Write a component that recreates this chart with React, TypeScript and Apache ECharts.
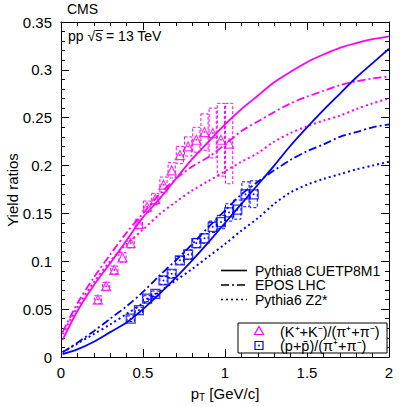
import React, { useEffect, useRef } from "react";
import * as echarts from "echarts";

// Model curves (pT grid)
const curvePt = [0.01, 0.1, 0.2, 0.3, 0.4, 0.5, 0.6, 0.7, 0.8, 0.9, 1.0, 1.1, 1.2, 1.3, 1.4, 1.5, 1.6, 1.7, 1.8, 1.9, 2.0];
const kaonPythia8 = [0.018, 0.048, 0.075, 0.098, 0.122, 0.146, 0.165, 0.186, 0.207, 0.225, 0.243, 0.259, 0.273, 0.287, 0.298, 0.308, 0.316, 0.323, 0.328, 0.332, 0.335];
const kaonEpos = [0.026, 0.056, 0.083, 0.107, 0.130, 0.150, 0.170, 0.186, 0.199, 0.209, 0.222, 0.236, 0.246, 0.256, 0.265, 0.272, 0.278, 0.284, 0.288, 0.291, 0.293];
const kaonPythia6 = [0.024, 0.052, 0.078, 0.100, 0.118, 0.133, 0.149, 0.162, 0.174, 0.184, 0.194, 0.204, 0.213, 0.225, 0.234, 0.241, 0.247, 0.252, 0.259, 0.265, 0.270];
const protonPythia8 = [0.003, 0.008, 0.016, 0.026, 0.036, 0.050, 0.066, 0.083, 0.101, 0.120, 0.140, 0.160, 0.180, 0.200, 0.221, 0.240, 0.258, 0.275, 0.292, 0.307, 0.322];
const protonEpos = [0.005, 0.015, 0.027, 0.040, 0.053, 0.068, 0.085, 0.101, 0.118, 0.136, 0.153, 0.170, 0.183, 0.195, 0.206, 0.215, 0.222, 0.230, 0.235, 0.240, 0.243];
const protonPythia6 = [0.005, 0.014, 0.024, 0.034, 0.045, 0.056, 0.068, 0.080, 0.092, 0.105, 0.118, 0.132, 0.145, 0.160, 0.172, 0.180, 0.186, 0.191, 0.196, 0.200, 0.204];

// Measured data
const kaonPt = [0.225, 0.275, 0.325, 0.375, 0.425, 0.475, 0.525, 0.575, 0.625, 0.675, 0.725, 0.775, 0.825, 0.875, 0.925, 0.975, 1.025];
const kaonRatio = [0.060, 0.074, 0.091, 0.104, 0.119, 0.139, 0.157, 0.165, 0.180, 0.195, 0.211, 0.220, 0.227, 0.235, 0.234, 0.227, 0.223];
const kaonSyst = [0.004, 0.004, 0.004, 0.005, 0.005, 0.005, 0.006, 0.006, 0.008, 0.008, 0.009, 0.010, 0.013, 0.019, 0.026, 0.038, 0.042];
const protonPt = [0.425, 0.475, 0.525, 0.575, 0.625, 0.675, 0.725, 0.775, 0.825, 0.875, 0.925, 0.975, 1.025, 1.075, 1.125, 1.175];
const protonRatio = [0.040, 0.049, 0.061, 0.066, 0.080, 0.087, 0.101, 0.107, 0.119, 0.124, 0.136, 0.141, 0.151, 0.154, 0.170, 0.170];
const protonSyst = [0.003, 0.003, 0.003, 0.003, 0.004, 0.004, 0.004, 0.005, 0.005, 0.005, 0.006, 0.007, 0.009, 0.010, 0.013, 0.014];

const xTicks = ["0", "0.5", "1", "1.5", "2"];
const yTitle = "Yield ratios";
const modelNames = ["Pythia8 CUETP8M1", "EPOS LHC", "Pythia6 Z2*"];
const dataNames = ["(K\u207A+K\u207B)/(\u03C0\u207A+\u03C0\u207B)", "(p+p\u0304)/(\u03C0\u207A+\u03C0\u207B)"];

const MAG = "#ff00ff";
const BLU = "#0000ff";
const FONT = "Liberation Sans, Arial, sans-serif";
const DASHDOT = [8, 3, 2, 3];
const DOTTED = [2, 3];

function curve(ys: number[], color: string, type: any, width = 1.6) {
  return {
    type: "line",
    data: curvePt.map((x, i) => [x, ys[i]]),
    smooth: 0.3,
    showSymbol: false,
    symbol: "none",
    lineStyle: { color, width, type },
    silent: true,
    z: 3,
  };
}

function boxes(pt: number[], v: number[], s: number[], color: string) {
  return {
    type: "custom",
    data: pt.map((x, i) => [x, v[i], s[i]]),
    encode: { x: 0, y: 1 },
    z: 2,
    silent: true,
    renderItem: (_p: any, api: any) => {
      const x = api.value(0), y = api.value(1), e = api.value(2);
      const a = api.coord([x - 0.022, y + e]);
      const b = api.coord([x + 0.022, y - e]);
      const c = api.coord([x, y]);
      return {
        type: "group",
        children: [
          {
            type: "rect",
            shape: { x: a[0], y: a[1], width: b[0] - a[0], height: b[1] - a[1] },
            style: { fill: "none", stroke: color, lineWidth: 1, lineDash: [3, 2] },
          },
          { type: "circle", shape: { cx: c[0], cy: c[1], r: 0.9 }, style: { fill: color } },
        ],
      };
    },
  };
}

function markers(pt: number[], v: number[], color: string, symbol: string, size: number) {
  return {
    type: "scatter",
    data: pt.map((x, i) => [x, v[i]]),
    symbol,
    symbolSize: size,
    itemStyle: { color: "rgba(255,255,255,0)", borderColor: color, borderWidth: 1.2 },
    z: 4,
    silent: true,
  };
}

const axisCommon = {
  axisLine: { show: true, onZero: false, lineStyle: { color: "#000", width: 1 } },
  axisTick: { show: true, inside: true, length: 8, lineStyle: { color: "#000" } },
  minorTick: { show: true, splitNumber: 5, length: 4, lineStyle: { color: "#000" } },
  splitLine: { show: false },
};

export default function App() {
  const ref = useRef<HTMLDivElement>(null);
  useEffect(() => {
    const chart = echarts.init(ref.current!, null, { renderer: "svg" });
    const legendX = 221;
    const legendRows = [270.5, 285, 299.5];
    const legendTypes: any[] = ["solid", DASHDOT, DOTTED];
    const graphic: any[] = [];
    graphic.push({ type: "text", x: 67, y: 2, style: { text: "CMS", font: `14px ${FONT}`, fill: "#000" } });
    graphic.push({ type: "text", x: 68, y: 29, style: { text: "pp \u221As = 13 TeV", font: `14px ${FONT}`, fill: "#000" } });
    graphic.push({ type: "line", shape: { x1: 95.5, y1: 30.5, x2: 103, y2: 30.5 }, style: { stroke: "#000", lineWidth: 1 } });
    graphic.push({ type: "text", x: 12, y: 190, rotation: Math.PI / 2, style: { text: yTitle, font: `15px ${FONT}`, lineHeight: 14, fill: "#000", align: "center", verticalAlign: "middle" } });
    modelNames.forEach((n, i) => {
      graphic.push({ type: "line", shape: { x1: legendX, y1: legendRows[i], x2: legendX + 26, y2: legendRows[i] }, style: { stroke: "#000", lineWidth: 1.6, lineDash: i === 0 ? null : legendTypes[i] } });
      graphic.push({ type: "text", x: 255, y: legendRows[i], style: { text: n, font: `14px ${FONT}`, lineHeight: 13, fill: "#000", verticalAlign: "middle" } });
    });
    graphic.push({ type: "rect", shape: { x: 238, y: 323, width: 149, height: 30 }, style: { fill: "#fff", stroke: "#000", lineWidth: 1 }, z: 10 });
    graphic.push({ type: "polygon", shape: { points: [[259, 326.5], [263.5, 334.5], [254.5, 334.5]] }, style: { fill: "none", stroke: MAG, lineWidth: 1.2 }, z: 11 });
    graphic.push({ type: "rect", shape: { x: 255, y: 341.5, width: 8, height: 8 }, style: { fill: "none", stroke: BLU, lineWidth: 1.2 }, z: 11 });
    graphic.push({ type: "circle", shape: { cx: 259, cy: 345.5, r: 0.9 }, style: { fill: BLU }, z: 11 });
    graphic.push({ type: "text", x: 280, y: 331.5, style: { text: dataNames[0], font: `14.5px ${FONT}`, lineHeight: 13, fill: "#000", verticalAlign: "middle" }, z: 11 });
    graphic.push({ type: "text", x: 280, y: 346, style: { text: dataNames[1], font: `14.5px ${FONT}`, lineHeight: 13, fill: "#000", verticalAlign: "middle" }, z: 11 });

    chart.setOption({
      animation: false,
      backgroundColor: "#fff",
      textStyle: { fontFamily: FONT },
      grid: { left: 61, right: 18, top: 22, bottom: 50, containLabel: false, outerBoundsMode: "none" },
      xAxis: [
        {
          type: "value", min: 0, max: 2, interval: 0.5, position: "bottom",
          ...axisCommon,
          axisLabel: { show: true, fontSize: 15, color: "#000", margin: 8, fontFamily: FONT,
            formatter: (v: number) => xTicks[Math.round(v / 0.5)] ?? "" },
          name: "{p|p}{s|T} [GeV/c]",
          nameLocation: "middle", nameGap: 27,
          nameTextStyle: { fontSize: 15, color: "#000", fontFamily: FONT,
            rich: { p: { fontSize: 15, fontFamily: FONT }, s: { fontSize: 10, fontFamily: FONT, padding: [8, 0, 0, 0] } } },
        },
        {
          type: "value", min: 0, max: 2, interval: 0.5, position: "top",
          ...axisCommon, axisLabel: { show: false },
        },
      ],
      yAxis: [
        {
          type: "value", min: 0, max: 0.35, interval: 0.05, position: "left",
          ...axisCommon,
          axisLabel: { show: true, fontSize: 15, color: "#000", margin: 9, fontFamily: FONT },
        },
        {
          type: "value", min: 0, max: 0.35, interval: 0.05, position: "right",
          ...axisCommon, axisLabel: { show: false },
        },
      ],
      series: [
        boxes(kaonPt, kaonRatio, kaonSyst, MAG),
        boxes(protonPt, protonRatio, protonSyst, BLU),
        curve(kaonPythia8, MAG, "solid", 1.8),
        curve(kaonEpos, MAG, DASHDOT, 1.8),
        curve(kaonPythia6, MAG, DOTTED, 2),
        curve(protonPythia8, BLU, "solid", 1.8),
        curve(protonEpos, BLU, DASHDOT, 1.8),
        curve(protonPythia6, BLU, DOTTED, 2),
        markers(kaonPt, kaonRatio, MAG, "triangle", 9),
        markers(protonPt, protonRatio, BLU, "rect", 9),
      ],
      graphic,
    });
    return () => chart.dispose();
  }, []);
  return <div ref={ref} style={{ width: 407, height: 407, position: "absolute", left: 0, top: 0 }} />;
}
